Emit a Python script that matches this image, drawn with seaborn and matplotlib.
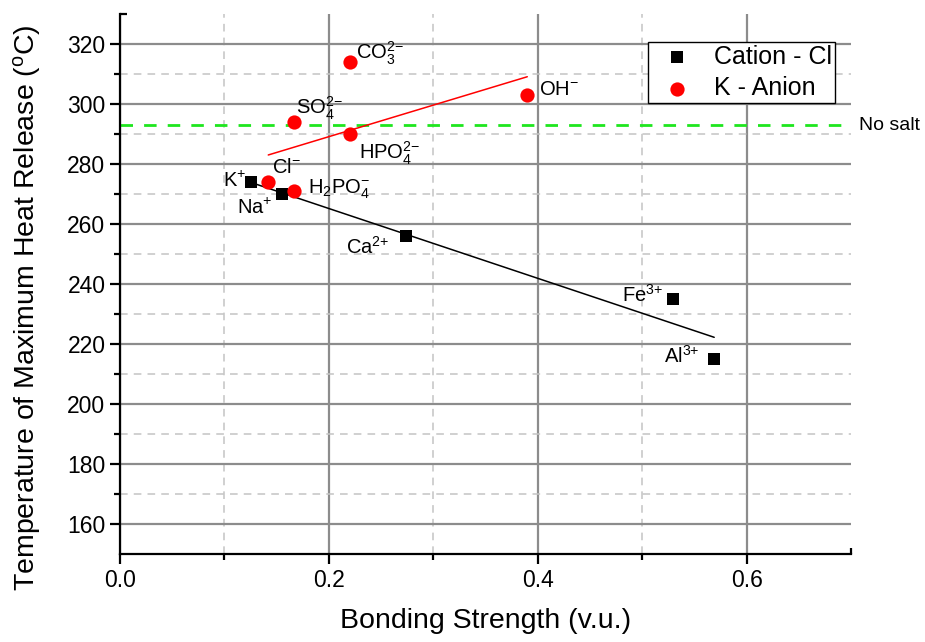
import numpy as np
import pandas as pd
import matplotlib
matplotlib.use("Agg")
import matplotlib.pyplot as plt
from matplotlib.ticker import FixedLocator
import seaborn as sns

# Cation chlorides (black squares)
cation_labels = ["K$^{{+}}$", "Na$^{{+}}$", "Ca$^{2{+}}$", "Fe$^{3{+}}$", "Al$^{3{+}}$"]
cation_x = [0.125, 0.155, 0.274, 0.530, 0.569]
cation_y = [274, 270, 256, 235, 215]

# Potassium salts of different anions (red circles)
anion_labels = ["Cl$^{{-}}$", "SO$_4^{2{-}}$", "H$_2$PO$_4^{{-}}$", "CO$_3^{2{-}}$",
                "HPO$_4^{2{-}}$", "OH$^{{-}}$"]
anion_x = [0.142, 0.167, 0.167, 0.220, 0.220, 0.390]
anion_y = [274, 294, 271, 314, 290, 303]

no_salt_temp = 293

x_ticks = [0.0, 0.2, 0.4, 0.6]
x_tick_labels = ["0.0", "0.2", "0.4", "0.6"]
x_minor = [0.1, 0.3, 0.5]
y_ticks = [160, 180, 200, 220, 240, 260, 280, 300, 320]
y_minor = [170, 190, 210, 230, 250, 270, 290, 310]

sns.set_style("white")
plt.rcParams["font.family"] = ["Liberation Sans", "DejaVu Sans"]
plt.rcParams["mathtext.fontset"] = "custom"
plt.rcParams["mathtext.rm"] = "Liberation Sans"
plt.rcParams["mathtext.it"] = "Liberation Sans:italic"
plt.rcParams["mathtext.bf"] = "Liberation Sans:bold"
plt.rcParams["mathtext.default"] = "regular"
plt.rcParams["text.color"] = "black"
plt.rcParams["axes.labelcolor"] = "black"
plt.rcParams["xtick.color"] = "black"
plt.rcParams["ytick.color"] = "black"

cations = pd.DataFrame({"x": cation_x, "y": cation_y, "label": cation_labels})
anions = pd.DataFrame({"x": anion_x, "y": anion_y, "label": anion_labels})

fig = plt.figure(figsize=(9.25, 6.42), dpi=100)
ax = fig.add_axes([0.1297, 0.137, 0.7903, 0.841])

ax.set_xlim(0, 0.7)
ax.set_ylim(150, 330)
ax.set_xticks(x_ticks)
ax.set_xticklabels(x_tick_labels)
ax.set_yticks(y_ticks)
ax.xaxis.set_minor_locator(FixedLocator(x_minor))
ax.yaxis.set_minor_locator(FixedLocator(y_minor))

ax.grid(which="major", color="#8c8c8c", linewidth=1.6, linestyle="-", zorder=0)
ax.grid(which="minor", color="#c4c4c4", linewidth=1.1, linestyle=(0, (5, 4)), zorder=0)
ax.set_axisbelow(True)

for side in ["top", "right"]:
    ax.spines[side].set_visible(False)
for side in ["left", "bottom"]:
    ax.spines[side].set_linewidth(1.6)
    ax.spines[side].set_color("black")

ax.tick_params(which="major", direction="out", length=7, width=1.6,
               labelsize=16.5, left=True, bottom=True)
ax.tick_params(which="minor", direction="out", length=4, width=1.6,
               left=True, bottom=True)

# Small inward caps at the far ends of both axes
ax.plot([1, 1], [0, 0.012], transform=ax.transAxes, color="black", lw=1.6,
        clip_on=False, solid_capstyle="butt")
ax.plot([0, 0.009], [1, 1], transform=ax.transAxes, color="black", lw=1.6,
        clip_on=False, solid_capstyle="butt")

# Reference temperature without salt
ax.axhline(no_salt_temp, color="#1ee61e", linewidth=2, linestyle=(0, (4.5, 4)), zorder=2)
ax.text(0.708, no_salt_temp, "No salt", fontsize=14, va="center", ha="left",
        clip_on=False)

# Linear fits over each data range
sns.regplot(data=cations, x="x", y="y", scatter=False, ci=None, truncate=True,
            color="black", line_kws={"linewidth": 1.1, "zorder": 3}, ax=ax)
sns.regplot(data=anions, x="x", y="y", scatter=False, ci=None, truncate=True,
            color="red", line_kws={"linewidth": 1.1, "zorder": 3}, ax=ax)

sns.scatterplot(data=cations, x="x", y="y", marker="s", s=80, color="black",
                edgecolor="black", linewidth=0, label="Cation - Cl", ax=ax, zorder=4)
sns.scatterplot(data=anions, x="x", y="y", marker="o", s=105, color="#ff0000",
                edgecolor="#ff0000", linewidth=0, label="K - Anion", ax=ax, zorder=4)

# Point annotations: (x, y, ha)
cation_text = [(0.121, 274.5, "right"), (0.146, 265.5, "right"), (0.258, 252.5, "right"),
               (0.520, 236.5, "right"), (0.555, 216.0, "right")]
anion_text = [(0.146, 279.0, "left"), (0.169, 298.5, "left"), (0.180, 271.5, "left"),
              (0.226, 317.0, "left"), (0.229, 283.5, "left"), (0.401, 305.0, "left")]
for lab, (tx, ty, ha) in zip(cation_labels, cation_text):
    ax.text(tx, ty, lab, fontsize=14.5, ha=ha, va="center", zorder=5)
for lab, (tx, ty, ha) in zip(anion_labels, anion_text):
    ax.text(tx, ty, lab, fontsize=14.5, ha=ha, va="center", zorder=5)

ax.set_xlabel("Bonding Strength (v.u.)", fontsize=20.5, labelpad=12)
ax.set_ylabel("Temperature of Maximum Heat Release ($^{o}$C)", fontsize=20.5)
ax.yaxis.set_label_coords(-0.105, 0.457)

leg = ax.legend(loc="upper right", bbox_to_anchor=(0.978, 0.948), fontsize=18,
                frameon=True, fancybox=False, edgecolor="black", framealpha=1,
                borderpad=0.1, handletextpad=0.42, handlelength=2.12,
                labelspacing=0.3, borderaxespad=0)
leg.get_frame().set_linewidth(1.0)

fig.savefig("out.png", dpi=100)
